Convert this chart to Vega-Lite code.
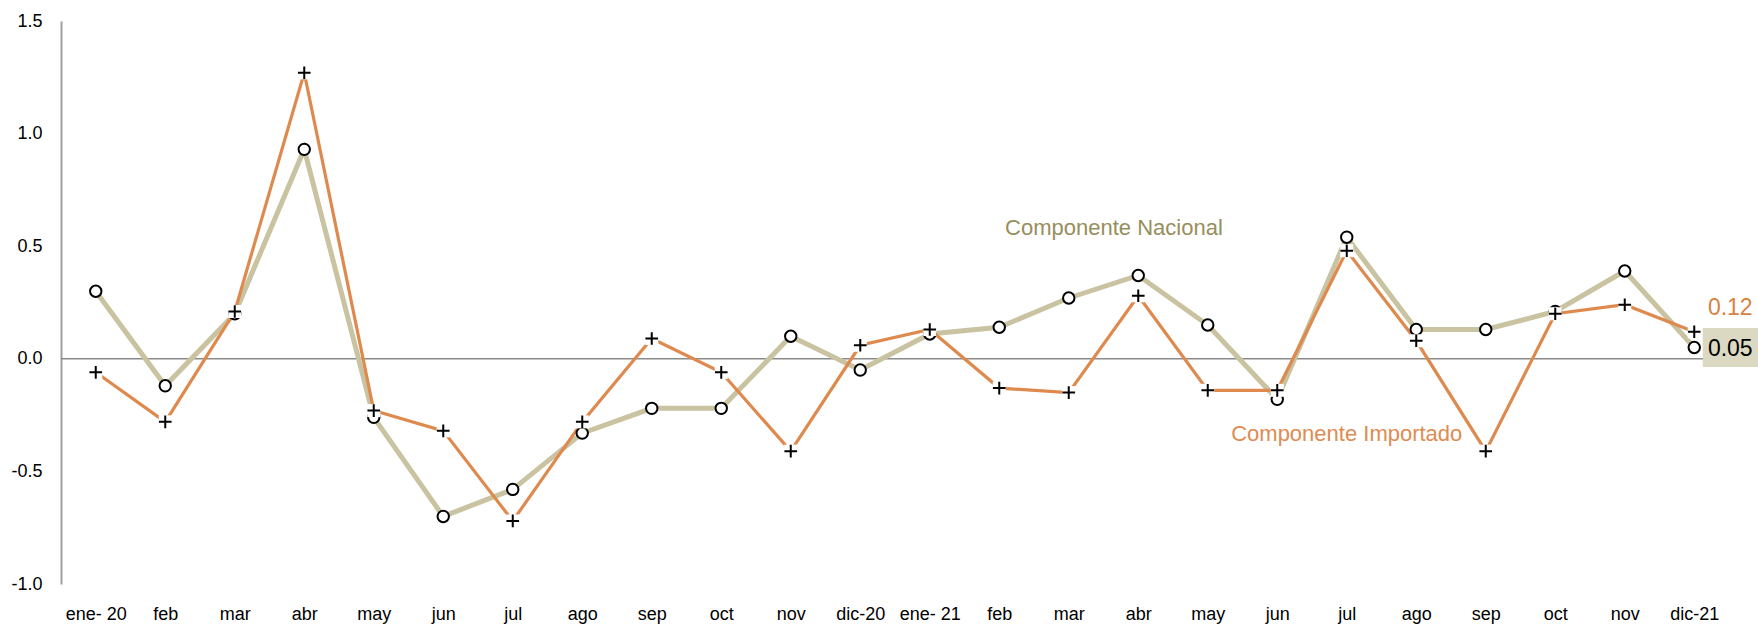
{
  "$schema": "https://vega.github.io/schema/vega-lite/v6.json",
  "width": 1668,
  "height": 563,
  "autosize": {"type": "none"},
  "padding": {"left": 61, "top": 21, "right": 29, "bottom": 40},
  "background": "white",
  "config": {"view": {"stroke": null}, "font": "Liberation Sans"},
  "datasets": {
    "serie": [
      {"i": 0, "mes": "ene- 20", "nac": 0.30, "imp": -0.06},
      {"i": 1, "mes": "feb", "nac": -0.12, "imp": -0.28},
      {"i": 2, "mes": "mar", "nac": 0.20, "imp": 0.21},
      {"i": 3, "mes": "abr", "nac": 0.93, "imp": 1.27},
      {"i": 4, "mes": "may", "nac": -0.26, "imp": -0.23},
      {"i": 5, "mes": "jun", "nac": -0.70, "imp": -0.32},
      {"i": 6, "mes": "jul", "nac": -0.58, "imp": -0.72},
      {"i": 7, "mes": "ago", "nac": -0.33, "imp": -0.28},
      {"i": 8, "mes": "sep", "nac": -0.22, "imp": 0.09},
      {"i": 9, "mes": "oct", "nac": -0.22, "imp": -0.06},
      {"i": 10, "mes": "nov", "nac": 0.10, "imp": -0.41},
      {"i": 11, "mes": "dic-20", "nac": -0.05, "imp": 0.06},
      {"i": 12, "mes": "ene- 21", "nac": 0.11, "imp": 0.13},
      {"i": 13, "mes": "feb", "nac": 0.14, "imp": -0.13},
      {"i": 14, "mes": "mar", "nac": 0.27, "imp": -0.15},
      {"i": 15, "mes": "abr", "nac": 0.37, "imp": 0.28},
      {"i": 16, "mes": "may", "nac": 0.15, "imp": -0.14},
      {"i": 17, "mes": "jun", "nac": -0.18, "imp": -0.14},
      {"i": 18, "mes": "jul", "nac": 0.54, "imp": 0.48},
      {"i": 19, "mes": "ago", "nac": 0.13, "imp": 0.08},
      {"i": 20, "mes": "sep", "nac": 0.13, "imp": -0.41},
      {"i": 21, "mes": "oct", "nac": 0.21, "imp": 0.20},
      {"i": 22, "mes": "nov", "nac": 0.39, "imp": 0.24},
      {"i": 23, "mes": "dic-21", "nac": 0.05, "imp": 0.12}
    ],
    "uno": [{"k": 1}]
  },
  "layer": [
    {
      "data": {"name": "uno"},
      "mark": {"type": "rule", "color": "#8a8a8a", "strokeWidth": 1.5},
      "encoding": {"y": {"datum": 0, "type": "quantitative"}}
    },
    {
      "data": {"name": "serie"},
      "mark": {"type": "line", "color": "#c9c3a1", "strokeWidth": 5},
      "encoding": {
        "x": {
          "field": "i", "type": "quantitative",
          "scale": {"domain": [-0.5, 23.5], "nice": false, "zero": false},
          "axis": {
            "title": null, "grid": false, "ticks": false, "domain": false,
            "values": [0,1,2,3,4,5,6,7,8,9,10,11,12,13,14,15,16,17,18,19,20,21,22,23],
            "labelExpr": "['ene- 20','feb','mar','abr','may','jun','jul','ago','sep','oct','nov','dic-20','ene- 21','feb','mar','abr','may','jun','jul','ago','sep','oct','nov','dic-21'][datum.value]",
            "labelFont": "Liberation Sans", "labelFontSize": 18, "labelColor": "#000000",
            "labelPadding": 21, "labelOverlap": false, "labelFlush": false
          }
        },
        "y": {
          "field": "nac", "type": "quantitative",
          "scale": {"domain": [-1, 1.5], "nice": false, "zero": false},
          "axis": {
            "title": null, "grid": false, "ticks": false,
            "values": [-1, -0.5, 0, 0.5, 1, 1.5],
            "labelExpr": "(datum.value < 0 ? '-' : '') + format(abs(datum.value), '.1f')",
            "domainColor": "#a0a0a0", "domainWidth": 2,
            "labelFont": "Liberation Sans", "labelFontSize": 18, "labelColor": "#000000",
            "labelPadding": 19
          }
        }
      }
    },
    {
      "data": {"name": "serie"},
      "mark": {"type": "line", "color": "#de8a4f", "strokeWidth": 3.2},
      "encoding": {"x": {"field": "i", "type": "quantitative"}, "y": {"field": "imp", "type": "quantitative"}}
    },
    {
      "data": {"name": "serie"},
      "mark": {"type": "point", "shape": "circle", "filled": true, "fill": "white", "stroke": "black", "strokeWidth": 2, "size": 130, "opacity": 1},
      "encoding": {"x": {"field": "i", "type": "quantitative"}, "y": {"field": "nac", "type": "quantitative"}}
    },
    {
      "data": {"name": "serie"},
      "mark": {"type": "point", "shape": "square", "filled": true, "fill": "white", "strokeWidth": 0, "size": 170, "opacity": 1},
      "encoding": {"x": {"field": "i", "type": "quantitative"}, "y": {"field": "imp", "type": "quantitative"}}
    },
    {
      "data": {"name": "serie"},
      "mark": {"type": "point", "shape": "M-1,0H1M0,-1V1", "filled": false, "stroke": "black", "strokeWidth": 2, "size": 160, "opacity": 1},
      "encoding": {"x": {"field": "i", "type": "quantitative"}, "y": {"field": "imp", "type": "quantitative"}}
    },
    {
      "data": {"name": "uno"},
      "mark": {"type": "text", "text": "Componente Nacional", "font": "Liberation Sans", "fontSize": 22, "fill": "#978e5c", "align": "center", "baseline": "middle"},
      "encoding": {"x": {"datum": 14.65, "type": "quantitative"}, "y": {"datum": 0.581, "type": "quantitative"}}
    },
    {
      "data": {"name": "uno"},
      "mark": {"type": "text", "text": "Componente Importado", "font": "Liberation Sans", "fontSize": 22, "fill": "#e08b52", "align": "center", "baseline": "middle"},
      "encoding": {"x": {"datum": 18.0, "type": "quantitative"}, "y": {"datum": -0.333, "type": "quantitative"}}
    },
    {
      "data": {"name": "uno"},
      "mark": {"type": "rect", "fill": "#dcd9c3", "strokeWidth": 0, "xOffset": 8.5, "x2Offset": 70, "yOffset": -19.5, "y2Offset": 19.5, "clip": false},
      "encoding": {"x": {"datum": 23, "type": "quantitative"}, "x2": {"datum": 23}, "y": {"datum": 0.05, "type": "quantitative"}, "y2": {"datum": 0.05}}
    },
    {
      "data": {"name": "uno"},
      "mark": {"type": "text", "text": "0.05", "font": "Liberation Sans", "fontSize": 23, "fill": "#000000", "align": "center", "baseline": "middle", "dx": 36, "dy": 1.5},
      "encoding": {"x": {"datum": 23, "type": "quantitative"}, "y": {"datum": 0.05, "type": "quantitative"}}
    },
    {
      "data": {"name": "uno"},
      "mark": {"type": "text", "text": "0.12", "font": "Liberation Sans", "fontSize": 23, "fill": "#d9823f", "align": "center", "baseline": "middle", "dx": 36, "dy": -24},
      "encoding": {"x": {"datum": 23, "type": "quantitative"}, "y": {"datum": 0.12, "type": "quantitative"}}
    }
  ]
}
